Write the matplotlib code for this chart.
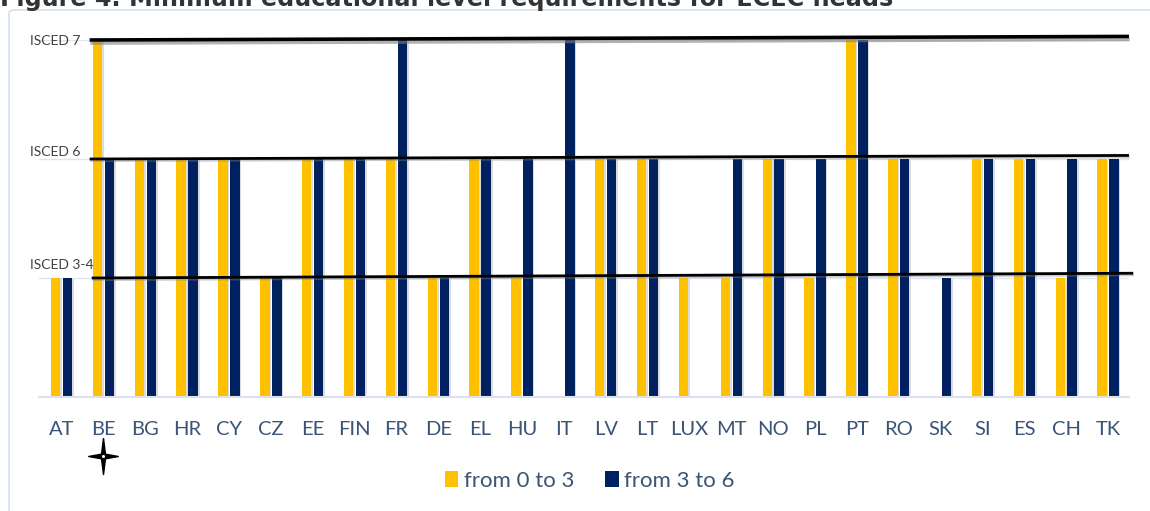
import numpy as np
import matplotlib.pyplot as plt
import matplotlib.patheffects as pe
from matplotlib.patches import FancyBboxPatch
from matplotlib.path import Path
from matplotlib.transforms import blended_transform_factory

# Dados (nivel: 1 = ISCED 3-4, 2 = ISCED 6, 3 = ISCED 7)
countries = ["AT", "BE", "BG", "HR", "CY", "CZ", "EE", "FIN", "FR", "DE", "EL", "HU", "IT",
             "LV", "LT", "LUX", "MT", "NO", "PL", "PT", "RO", "SK", "SI", "ES", "CH", "TK"]
level_0_3 = [1, 3, 2, 2, 2, 1, 2, 2, 2, 1, 2, 1, 0, 2, 2, 1, 1, 2, 1, 3, 2, 0, 2, 2, 1, 2]
level_3_6 = [1, 2, 2, 2, 2, 1, 2, 2, 3, 1, 2, 2, 3, 2, 2, 0, 2, 2, 2, 3, 2, 1, 2, 2, 2, 2]
level_labels = ["ISCED 3-4", "ISCED 6", "ISCED 7"]
series_labels = ["from 0 to 3", "from 3 to 6"]

YELLOW = "#FFC000"
NAVY = "#002060"
TXT_BLUE = "#3B5478"

plt.rcParams["font.family"] = ["Lato", "DejaVu Sans"]

fig = plt.figure(figsize=(11.5, 5.11), dpi=100)

# moldura azul clara do grafico
frame = FancyBboxPatch((9 / 1150, -0.05), 1.1, (511 - 10) / 511 + 0.05,
                       boxstyle="round,pad=0,rounding_size=0.006",
                       transform=fig.transFigure, fill=False,
                       edgecolor="#D3E0F0", linewidth=1.2)
fig.patches.append(frame)

# titulo cortado no topo (como no original)
fig.text(0.0, 1 - 6 / 511, "Figure 4. Minimum educational level requirements for ECEC heads",
         fontsize=17.2, fontweight="bold", color="#333333", family="DejaVu Sans",
         va="baseline", ha="left")

ax = fig.add_axes([39 / 1150, 114 / 511, (1129 - 39) / 1150, (397 - 40) / 511])
x = np.arange(len(countries))
w = 0.225
off = 0.143
shadow = 0.04

# sombras leves das barras
ax.bar(x - off + shadow, level_0_3, w, color="#9a9a9a", alpha=0.35, zorder=1)
ax.bar(x + off + shadow, level_3_6, w, color="#9a9a9a", alpha=0.35, zorder=1)
b1 = ax.bar(x - off, level_0_3, w, color=YELLOW, label=series_labels[0], zorder=2)
b2 = ax.bar(x + off, level_3_6, w, color=NAVY, label=series_labels[1], zorder=2)

ax.set_xlim(-0.54, 25.5)
ax.set_ylim(0, 3)
ax.set_xticks(x)
ax.set_xticklabels(countries, fontsize=14.5, color=TXT_BLUE)
ax.tick_params(axis="x", length=0, pad=17)
ax.set_yticks([1, 2, 3])
ax.set_yticklabels([])
ax.tick_params(axis="y", length=0)
ax.grid(axis="y", color="#DCE6F2", linewidth=1, zorder=0)
for s in ["top", "right", "left"]:
    ax.spines[s].set_visible(False)
ax.spines["bottom"].set_color("#D9E2EE")
ax.spines["bottom"].set_linewidth(1.5)

# rotulos ISCED
tr = blended_transform_factory(fig.transFigure, ax.transData)
ax.text(30 / 1150, 3 - 0.005, level_labels[2], transform=tr, fontsize=10, color="#404040",
        va="center", ha="left")
ax.text(30 / 1150, 2 + 0.06, level_labels[1], transform=tr, fontsize=10, color="#404040",
        va="center", ha="left")
ax.text(30 / 1150, 1 + 0.11, level_labels[0], transform=tr, fontsize=10, color="#404040",
        va="center", ha="left")

# linhas pretas desenhadas a mao
shadow_fx = [pe.SimpleLineShadow(offset=(0.5, -2.2), shadow_color="#808080", alpha=0.6), pe.Normal()]
ax.plot([0.67, 25.5], [3.0, 3.03], color="black", lw=2.6, clip_on=False, zorder=5,
        path_effects=shadow_fx, solid_capstyle="butt")
ax.plot([0.67, 25.5], [2.0, 2.03], color="black", lw=2.0, clip_on=False, zorder=5,
        path_effects=[pe.SimpleLineShadow(offset=(0.5, -1.2), shadow_color="#808080", alpha=0.4), pe.Normal()],
        solid_capstyle="butt")
ax.plot([0.72, 25.6], [1.0, 1.04], color="black", lw=2.0, clip_on=False, zorder=5,
        path_effects=[pe.SimpleLineShadow(offset=(0.5, -1.2), shadow_color="#808080", alpha=0.4), pe.Normal()],
        solid_capstyle="butt")

# estrela sob BE
star = Path([(0, 1), (0.11, 0.13), (0.82, 0), (0.11, -0.13), (0, -1), (-0.11, -0.13),
             (-0.82, 0), (-0.11, 0.13), (0, 1)])
trs = blended_transform_factory(ax.transData, fig.transFigure)
ax.plot([1], [1 - 456 / 511], marker=star, markersize=26, color="black", transform=trs,
        clip_on=False, linestyle="none")
ax.plot([1], [1 - 456 / 511], marker="o", markersize=2.2, color="white", transform=trs,
        clip_on=False, linestyle="none", markeredgewidth=0)

fig.legend(handles=[b1, b2], labels=series_labels, loc="center", bbox_to_anchor=(0.513, 30 / 511),
           ncol=2, frameon=False, fontsize=16, handlelength=0.6, handleheight=0.75,
           handletextpad=0.25, columnspacing=1.4, labelcolor=TXT_BLUE)

fig.savefig("out.png", dpi=100)
